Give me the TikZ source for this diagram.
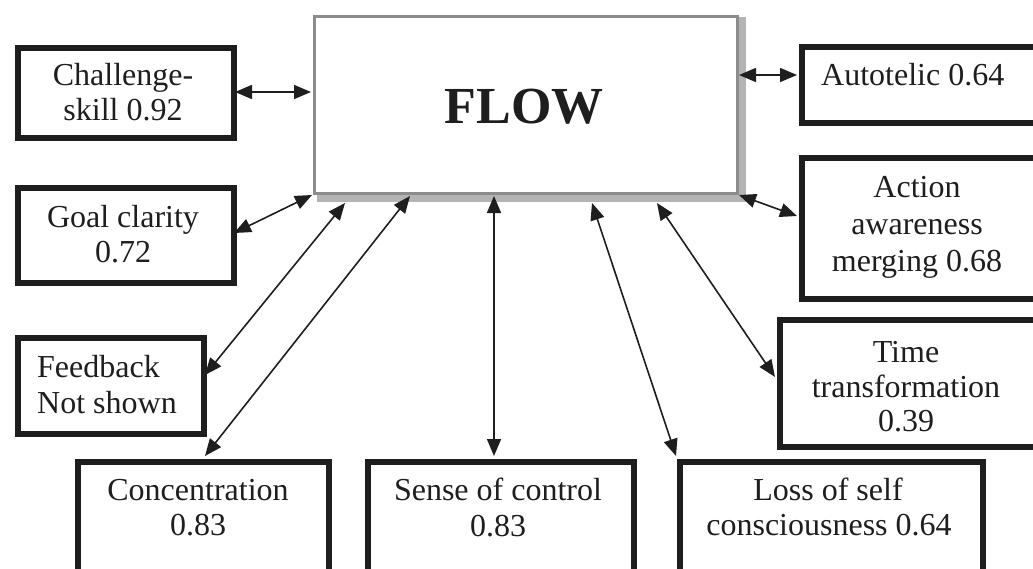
\documentclass[tikz,border=0pt]{standalone}
\usepackage{fontspec}
\setmainfont{Liberation Serif}
\usetikzlibrary{arrows.meta}
\definecolor{ink}{HTML}{1E1E1E}
\definecolor{framegray}{HTML}{8C8C8C}
\definecolor{shadowgray}{HTML}{B4B4B4}
\tikzset{
  box/.style={draw=ink, line width=5.5pt, rectangle, anchor=north west, inner sep=0pt, fill=white},
  lbl/.style={anchor=base, inner sep=0pt, text=ink, font=\fontsize{32}{36}\selectfont},
  lbll/.style={anchor=base west, inner sep=0pt, text=ink, font=\fontsize{32}{36}\selectfont},
  link/.style={draw=ink, line width=1.6pt, {Triangle[length=17pt,width=14pt]}-{Triangle[length=17pt,width=14pt]}, shorten <=0pt, shorten >=0pt},
}
\begin{document}
\begin{tikzpicture}[x=1pt,y=-1pt]
\useasboundingbox (0,0) rectangle (1033,568);
\clip (0,0) rectangle (1033,568);
% FLOW box with shadow
\fill[shadowgray] (317,17) rectangle (746,202);
\node[draw=framegray, line width=3pt, fill=white, anchor=north west, minimum width=423pt, minimum height=177pt, inner sep=0pt] (flow) at (313,15) {};
\node[anchor=base, inner sep=0pt, text=ink, font=\fontsize{52}{60}\selectfont\bfseries] (flowt) at (524,123) {FLOW};
% boxes
\node[box, minimum width=216pt, minimum height=90pt] (ch) at (15,45) {};
\node[box, minimum width=216pt, minimum height=95pt] (go) at (15,185) {};
\node[box, minimum width=186pt, minimum height=96pt] (fb) at (15,335) {};
\node[box, minimum width=251pt, minimum height=150pt] (co) at (75,459) {};
\node[box, minimum width=266pt, minimum height=150pt] (se) at (365,459) {};
\node[box, minimum width=303pt, minimum height=150pt] (lo) at (677,459) {};
\node[box, minimum width=250pt, minimum height=76pt] (au) at (799,44) {};
\node[box, minimum width=250pt, minimum height=141pt] (ac) at (799,155) {};
\node[box, minimum width=270pt, minimum height=127pt] (ti) at (777,317) {};
% labels
\node[lbl] (ch1) at (123,85) {Challenge-};
\node[lbl] (ch2) at (123,120) {skill 0.92};
\node[lbl] (go1) at (123,227) {Goal clarity};
\node[lbl] (go2) at (123,262) {0.72};
\node[lbll] (fb1) at (37,377) {Feedback};
\node[lbll] (fb2) at (37,413) {Not shown};
\node[lbl] (co1) at (198,500) {Concentration};
\node[lbl] (co2) at (198,535) {0.83};
\node[lbl] (se1) at (498,500) {Sense of control};
\node[lbl] (se2) at (498,536) {0.83};
\node[lbl] (lo1) at (828,500) {Loss of self};
\node[lbl] (lo2) at (829,535) {consciousness 0.64};
\node[lbll] (au1) at (821,85) {Autotelic 0.64};
\node[lbl] (ac1) at (917,197) {Action};
\node[lbl] (ac2) at (917,234) {awareness};
\node[lbl] (ac3) at (917,271) {merging 0.68};
\node[lbl] (ti1) at (906,362) {Time};
\node[lbl] (ti2) at (906,397) {transformation};
\node[lbl] (ti3) at (906,431) {0.39};
% connector end points
\coordinate (chA) at (235,92);   \coordinate (flA) at (311,92);
\coordinate (auA) at (797,75);   \coordinate (flB) at (739,75);
\coordinate (acA) at (797,216);  \coordinate (flC) at (739,195);
\coordinate (goA) at (234,233);  \coordinate (flD) at (312,195);
\coordinate (fbA) at (205,375);  \coordinate (flE) at (345,203);
\coordinate (coA) at (205,456);  \coordinate (flF) at (410,196);
\coordinate (seA) at (494,456);  \coordinate (flG) at (494,196);
\coordinate (loA) at (676,456);  \coordinate (flH) at (592,203);
\coordinate (tiA) at (775,377);  \coordinate (flI) at (657,203);
% connectors
\draw[link] (chA) -- (flA);
\draw[link] (flB) -- (auA);
\draw[link] (flC) -- (acA);
\draw[link] (goA) -- (flD);
\draw[link] (fbA) -- (flE);
\draw[link] (coA) -- (flF);
\draw[link] (seA) -- (flG);
\draw[link] (loA) -- (flH);
\draw[link] (tiA) -- (flI);
\end{tikzpicture}
\end{document}
